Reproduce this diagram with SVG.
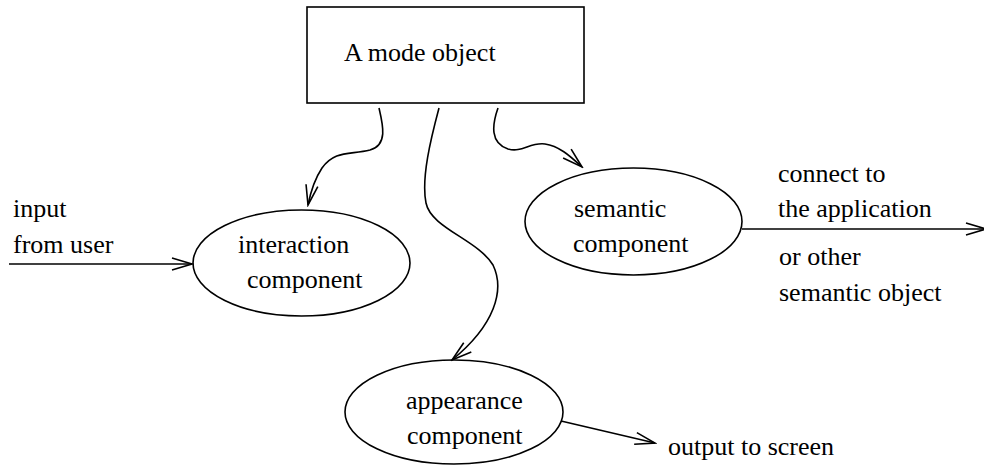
<svg xmlns="http://www.w3.org/2000/svg" width="984" height="466" viewBox="0 0 984 466">
<style>
text{font-family:"Liberation Serif","Times New Roman",serif;font-size:26px;fill:#000}
.shape{fill:#fff;stroke:#000;stroke-width:1.6}
.edge{fill:none;stroke:#000;stroke-width:1.6;marker-end:url(#arr)}
</style>
<defs>
<marker id="arr" markerUnits="userSpaceOnUse" viewBox="-22 -8 24 16" refX="0" refY="0" markerWidth="24" markerHeight="16" orient="auto">
<path d="M-20,-6 L0,0 L-20,6" fill="none" stroke="#000" stroke-width="1.6"/>
</marker>
</defs>
<rect width="984" height="466" fill="#fff"/>
<g id="mode-object">
<rect class="shape" x="307" y="7" width="277" height="96"/>
<text x="344" y="61">A mode object</text>
</g>
<g id="interaction">
<ellipse class="shape" cx="301.5" cy="263" rx="108.5" ry="53"/>
<text x="238" y="253">interaction</text>
<text x="247" y="288">component</text>
</g>
<g id="semantic">
<ellipse class="shape" cx="633.5" cy="221.5" rx="108.5" ry="53.5"/>
<text x="574" y="217">semantic</text>
<text x="573" y="252">component</text>
</g>
<g id="appearance">
<ellipse class="shape" cx="454" cy="412" rx="109" ry="52"/>
<text x="406" y="409">appearance</text>
<text x="407" y="444">component</text>
</g>
<g id="labels">
<text x="13" y="217">input</text>
<text x="13" y="253">from user</text>
<text x="778" y="182">connect to</text>
<text x="778" y="217">the application</text>
<text x="779" y="265">or other</text>
<text x="779" y="301">semantic object</text>
<text x="668" y="455">output to screen</text>
</g>
<g id="connectors">
<path class="edge" d="M379,108 C383,125 388,145 370,150 C350,155 335,150 322,168 C314,180 310,195 308,205"/>
<path class="edge" d="M439,108 C431,138 421,178 426,203 C431,228 478,240 493,265 C505,290 495,325 452,360"/>
<path class="edge" d="M498,108 C492,125 490,143 508,149 C522,153 530,142 545,144 C560,146 572,158 582,167"/>
<path class="edge" d="M9,264 L192,264"/>
<path class="edge" d="M742,229 L986,229"/>
<path class="edge" d="M561,421 L655,443"/>
</g>
</svg>
